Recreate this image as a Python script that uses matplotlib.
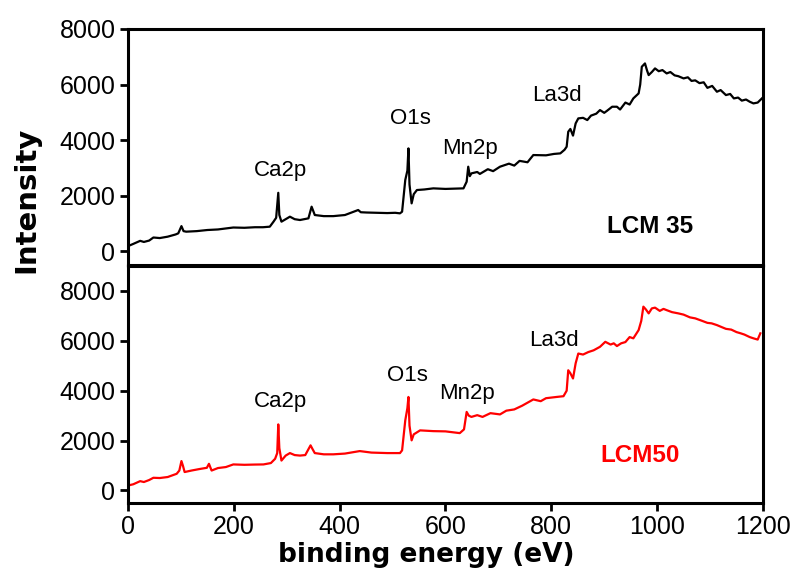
import matplotlib.pyplot as plt

plt.rcParams['font.family'] = ['Liberation Sans', 'DejaVu Sans']

# XPS survey spectra (binding energy in eV, intensity in counts)
be_35 = [0, 10, 23, 30, 40, 48, 60, 75, 90, 95, 101, 105, 110, 130, 150, 170, 199, 220, 240, 255,
         268, 275, 280, 284, 286, 290, 298, 306, 315, 325, 335, 341, 347, 350, 353, 370, 388, 410,
         435, 440, 451, 470, 490, 505, 514, 518, 524, 528, 530, 532, 536, 540, 546, 560, 577, 600,
         620, 634, 640, 643, 646, 649, 660, 665, 680, 690, 703, 720, 730, 740, 755, 766, 790, 805,
         817, 825, 829, 832, 836, 841, 846, 851, 860, 868, 875, 885, 892, 900, 905, 915, 924, 930,
         940, 948, 955, 965, 968, 971, 977, 981, 984, 990, 996, 1003, 1010, 1018, 1025, 1033, 1040,
         1050, 1058, 1065, 1072, 1080, 1088, 1095, 1104, 1113, 1120, 1130, 1138, 1145, 1153, 1160,
         1168, 1175, 1182, 1190, 1198]
int_35 = [180, 260, 370, 330, 380, 490, 470, 520, 600, 640, 900, 720, 700, 720, 760, 780, 850, 840,
          860, 860, 880, 1060, 1200, 2100, 1300, 1060, 1150, 1240, 1150, 1120, 1160, 1180, 1600,
          1450, 1300, 1260, 1260, 1300, 1480, 1400, 1390, 1380, 1370, 1380, 1360, 1420, 2560, 2900,
          3700, 2400, 1720, 2050, 2200, 2220, 2260, 2240, 2250, 2260, 2500, 3040, 2700, 2800, 2850,
          2780, 2950, 2880, 3040, 3150, 3080, 3250, 3200, 3460, 3450, 3500, 3520, 3650, 3760, 4300,
          4400, 4160, 4600, 4780, 4800, 4720, 4880, 4950, 5080, 4980, 5050, 5200, 5200, 5100, 5350,
          5280, 5500, 5680, 6000, 6640, 6760, 6500, 6340, 6450, 6580, 6480, 6520, 6400, 6450, 6330,
          6300, 6220, 6260, 6130, 6150, 6050, 6080, 5880, 5950, 5740, 5800, 5620, 5660, 5500, 5530,
          5420, 5460, 5380, 5320, 5350, 5500]

be_50 = [0, 10, 23, 30, 40, 48, 60, 75, 92, 97, 101, 104, 107, 120, 135, 149, 153, 158, 170, 185,
         199, 220, 240, 256, 270, 278, 282, 284, 286, 290, 298, 306, 315, 325, 335, 345, 349, 353,
         370, 388, 410, 438, 460, 490, 514, 518, 524, 528, 530, 532, 536, 540, 552, 577, 600, 627,
         635, 640, 644, 649, 660, 670, 685, 703, 715, 730, 745, 766, 780, 790, 810, 823, 829, 832,
         836, 841, 846, 851, 860, 870, 880, 892, 902, 912, 918, 924, 932, 940, 948, 955, 965, 970,
         974, 979, 984, 990, 996, 1005, 1012, 1018, 1028, 1040, 1050, 1062, 1072, 1085, 1095, 1103,
         1113, 1122, 1130, 1140, 1150, 1158, 1165, 1175, 1182, 1190, 1195]
int_50 = [200, 250, 375, 340, 420, 510, 500, 540, 670, 800, 1180, 980, 740, 800, 860, 910, 1070, 800,
          900, 940, 1045, 1030, 1040, 1045, 1100, 1270, 1500, 2650, 1700, 1200, 1400, 1500, 1420,
          1400, 1420, 1810, 1650, 1500, 1450, 1450, 1480, 1580, 1520, 1500, 1500, 1610, 2810, 3300,
          3750, 2600, 2010, 2250, 2410, 2380, 2370, 2300, 2450, 3150, 3000, 2950, 3020, 2950, 3100,
          3050, 3200, 3250, 3400, 3650, 3580, 3700, 3750, 3780, 4000, 4820, 4700, 4490, 5100, 5490,
          5450, 5550, 5620, 5760, 5960, 5850, 5900, 5790, 5900, 5950, 6150, 6100, 6430, 6800, 7370,
          7250, 7100, 7300, 7330, 7200, 7280, 7230, 7150, 7100, 7050, 6940, 6900, 6800, 6720, 6700,
          6630, 6550, 6480, 6450, 6350, 6300, 6250, 6150, 6100, 6050, 6300]

peaks = ['Ca2p', 'O1s', 'Mn2p', 'La3d']
peak_x_35 = [289, 533, 646, 811]
peak_y_35 = [2920, 4790, 3710, 5620]
peak_x_50 = [289, 529, 641, 805]
peak_y_50 = [3580, 4620, 3900, 6030]

fig = plt.figure(figsize=(7.97, 5.81), dpi=100)
ax1 = fig.add_axes([0.1606, 0.5439, 0.7967, 0.4062])
ax2 = fig.add_axes([0.1606, 0.1343, 0.7967, 0.4079])

ax1.plot(be_35, int_35, color='black', lw=1.6)
ax2.plot(be_50, int_50, color='red', lw=1.6)

for name, x, y in zip(peaks, peak_x_35, peak_y_35):
    ax1.text(x, y, name, ha='center', va='center', fontsize=16)
for name, x, y in zip(peaks, peak_x_50, peak_y_50):
    ax2.text(x, y, name, ha='center', va='center', fontsize=16)

ax1.text(987, 900, 'LCM 35', ha='center', va='center', fontsize=17.5, fontweight='bold')
ax2.text(968, 1410, 'LCM50', ha='center', va='center', fontsize=17.5, fontweight='bold', color='red')

ax1.set_ylim(-500, 8000)
ax2.set_ylim(-500, 9000)
for ax in (ax1, ax2):
    ax.set_xlim(0, 1200)
    ax.set_yticks([0, 2000, 4000, 6000, 8000])
    for s in ax.spines.values():
        s.set_linewidth(2.2)
    ax.tick_params(direction='out', length=6, width=2, labelsize=18, pad=3)

ax1.set_xticks([])
ax2.set_xticks([0, 200, 400, 600, 800, 1000, 1200])

fig.text(0.535, 0.045, 'binding energy (eV)', ha='center', va='center',
         fontsize=19, fontweight='bold', family=['DejaVu Sans'])
fig.text(0.033, 0.656, 'Intensity', rotation=90, ha='center', va='center',
         fontsize=21, fontweight='bold', family=['DejaVu Sans'])

fig.savefig('out.png', dpi=100)
